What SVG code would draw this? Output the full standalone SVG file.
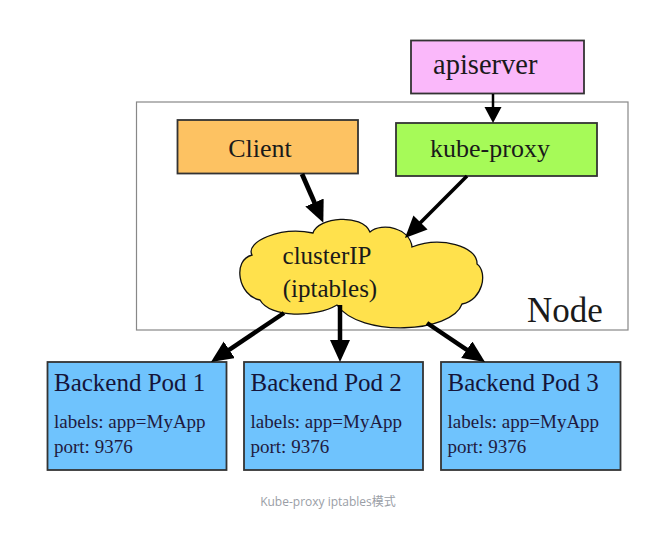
<svg xmlns="http://www.w3.org/2000/svg" width="664" height="539" viewBox="0 0 664 539">
<style>
  .box { stroke: #333; stroke-width: 1.8; }
  .t { font-family: "Liberation Serif", "Times New Roman", serif; fill: #1a1a1a; }
  .big { font-size: 26px; }
  .pt { font-size: 25px; fill: #15153a; }
  .pl { font-size: 19px; fill: #1f1a40; }
  .conn { stroke: #000; fill: none; }
</style>
<defs>
  <marker id="ah" markerUnits="userSpaceOnUse" markerWidth="24" markerHeight="22" refX="2" refY="10" orient="auto">
    <path d="M0,0 L22,10 L0,20 z" fill="#000"/>
  </marker>
  <marker id="ahs" markerUnits="userSpaceOnUse" markerWidth="18" markerHeight="18" refX="1" refY="8.5" orient="auto">
    <path d="M0,0 L16,8.5 L0,17 z" fill="#000"/>
  </marker>
</defs>
<rect width="664" height="539" fill="#fff"/>

<g id="node-frame">
  <rect x="136.5" y="102" width="491.5" height="228" fill="#fff" stroke="#888" stroke-width="1.2"/>
  <text class="t" x="527" y="322" font-size="35">Node</text>
</g>

<g id="apiserver">
  <rect class="box" x="411" y="40.5" width="173" height="53" fill="#fab8fa"/>
  <text class="t" x="433" y="74" font-size="28.5">apiserver</text>
</g>

<g id="client">
  <rect class="box" x="177.5" y="120" width="180.5" height="53.5" fill="#fdc262"/>
  <text class="t big" x="260" y="157" text-anchor="middle">Client</text>
</g>

<g id="kube-proxy">
  <rect class="box" x="396" y="123" width="201" height="53" fill="#a6fa58"/>
  <text class="t big" x="490" y="157" text-anchor="middle">kube-proxy</text>
</g>

<g id="clusterip">
  <path d="M 313,233 C 318,217 362,213 370,232 C 382,222 410,228 412,247 C 440,236 478,246 477,264 C 488,272 483,300 462,304 C 452,333 360,338 337,305 C 315,318 270,318 260,300 C 238,296 232,260 252,255 C 245,242 280,226 313,233 Z" fill="#ffe14c" stroke="#111" stroke-width="1.3"/>
  <text class="t" x="327" y="264" font-size="25" text-anchor="middle">clusterIP</text>
  <text class="t" x="330" y="297" font-size="25" text-anchor="middle">(iptables)</text>
</g>

<g id="pod1">
  <rect class="box" x="47.5" y="362" width="179" height="108" fill="#6fc3fd"/>
  <text class="t pt" x="54" y="391">Backend Pod 1</text>
  <text class="t pl" x="54" y="428">labels: app=MyApp</text>
  <text class="t pl" x="54" y="453">port: 9376</text>
</g>

<g id="pod2">
  <rect class="box" x="244" y="362" width="179" height="108" fill="#6fc3fd"/>
  <text class="t pt" x="250.5" y="391">Backend Pod 2</text>
  <text class="t pl" x="250.5" y="428">labels: app=MyApp</text>
  <text class="t pl" x="250.5" y="453">port: 9376</text>
</g>

<g id="pod3">
  <rect class="box" x="441" y="362" width="179.5" height="108" fill="#6fc3fd"/>
  <text class="t pt" x="447.5" y="391">Backend Pod 3</text>
  <text class="t pl" x="447.5" y="428">labels: app=MyApp</text>
  <text class="t pl" x="447.5" y="453">port: 9376</text>
</g>

<g id="connectors">
  <line class="conn" x1="493" y1="94" x2="493" y2="108" stroke-width="2.5" marker-end="url(#ahs)"/>
  <line class="conn" x1="302" y1="174" x2="315.3" y2="204.4" stroke-width="4.8" marker-end="url(#ah)"/>
  <line class="conn" x1="467" y1="176" x2="419.1" y2="223.9" stroke-width="3.6" marker-end="url(#ah)"/>
  <line class="conn" x1="284" y1="313" x2="227.6" y2="350.9" stroke-width="4.5" marker-end="url(#ah)"/>
  <line class="conn" x1="340" y1="305" x2="340" y2="342" stroke-width="4.5" marker-end="url(#ah)"/>
  <line class="conn" x1="427" y1="323" x2="468.4" y2="350.8" stroke-width="4.5" marker-end="url(#ah)"/>
</g>

<text x="328" y="506" font-family="'Open Sans', 'Noto Sans', 'Noto Sans CJK SC', sans-serif" font-size="12" fill="#9a9ea6" text-anchor="middle">Kube-proxy iptables模式</text>
</svg>
